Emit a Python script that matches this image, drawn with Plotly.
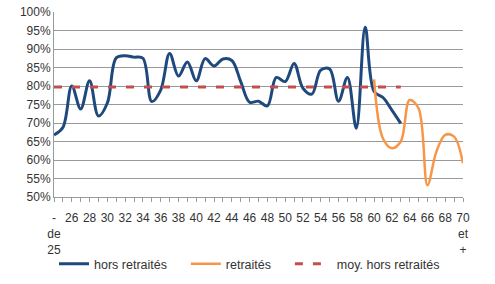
import plotly.graph_objects as go

categories = ["- de 25"] + [str(a) for a in range(25, 70)] + ["70 et +"]

hors_retraites = [66.8, 68.8, 80.0, 73.8, 81.4, 71.9, 75.4, 87.6, 88.2, 87.8,
                  87.5, 75.8, 78.9, 88.8, 82.7, 86.5, 81.4, 87.4, 85.4, 87.3,
                  86.9, 81.2, 75.6, 75.9, 74.6, 82.3, 81.2, 86.1, 79.4, 77.8,
                  84.3, 84.6, 75.9, 82.3, 68.6, 95.9, 78.5, 76.9, 73.5, 69.9,
                  None, None, None, None, None, None, None]

retraites = [None] * 36 + [81.8, 65.8, 63.2, 65.0, 76.2, 74.0, 53.2, 62.2, 66.8, 66.3, 59.1]

moy_hors_retraites = 79.7
moy_span = 40  # number of categories covered by the average line

tick_labels = ["-<br>de<br>25"] + [str(a) for a in range(25, 70)] + ["70<br>et<br>+"]
y_ticks = list(range(50, 101, 5))
y_tick_labels = [f"{v}%" for v in y_ticks]

blue = "#1F497D"
orange = "#F79646"
red = "#C0504D"
grid = "#9A9A9A"
txt = "#333333"
pad = "\u00a0\u00a0\u00a0\u00a0"

fig = go.Figure()
fig.add_trace(go.Scatter(x=categories, y=hors_retraites, mode="lines",
                         name="hors retraités" + pad,
                         line=dict(color=blue, width=3, shape="spline", smoothing=1),
                         connectgaps=False))
fig.add_trace(go.Scatter(x=categories, y=retraites, mode="lines",
                         name="retraités" + pad,
                         line=dict(color=orange, width=2.5, shape="spline", smoothing=1),
                         connectgaps=False))
fig.add_trace(go.Scatter(x=categories[:moy_span], y=[moy_hors_retraites] * moy_span,
                         mode="lines", name="\u00a0\u00a0moy. hors retraités",
                         line=dict(color=red, width=3, dash="8px,10px")))

fig.update_layout(
    width=495, height=284,
    margin=dict(l=54, r=32, t=12, b=87, autoexpand=False),
    paper_bgcolor="white", plot_bgcolor="white",
    font=dict(family="Liberation Sans, Arial, sans-serif", size=12, color=txt),
    showlegend=True,
    legend=dict(orientation="h", x=0.0, xanchor="left",
                yref="container", y=0.07, yanchor="middle",
                font=dict(size=12.5, color=txt), itemwidth=30,
                bgcolor="rgba(0,0,0,0)"),
)

fig.update_xaxes(
    type="category",
    range=[0, len(categories) - 1],
    tickmode="array",
    tickvals=categories,
    ticktext=[lab if i % 2 == 0 else "" for i, lab in enumerate(tick_labels)],
    ticks="outside", ticklen=4, tickcolor=grid, tickwidth=1,
    ticklabelstandoff=6,
    showline=True, linecolor=grid, linewidth=1,
    showgrid=False, zeroline=False,
    tickangle=0,
    tickfont=dict(size=12, color=txt),
)

fig.update_yaxes(
    range=[50, 100],
    tickmode="array",
    tickvals=y_ticks,
    ticktext=y_tick_labels,
    showgrid=True, gridcolor=grid, gridwidth=1,
    showline=True, linecolor=grid, linewidth=1,
    zeroline=False,
    ticks="", tickfont=dict(size=12, color=txt),
)

fig.write_html("out.html")
